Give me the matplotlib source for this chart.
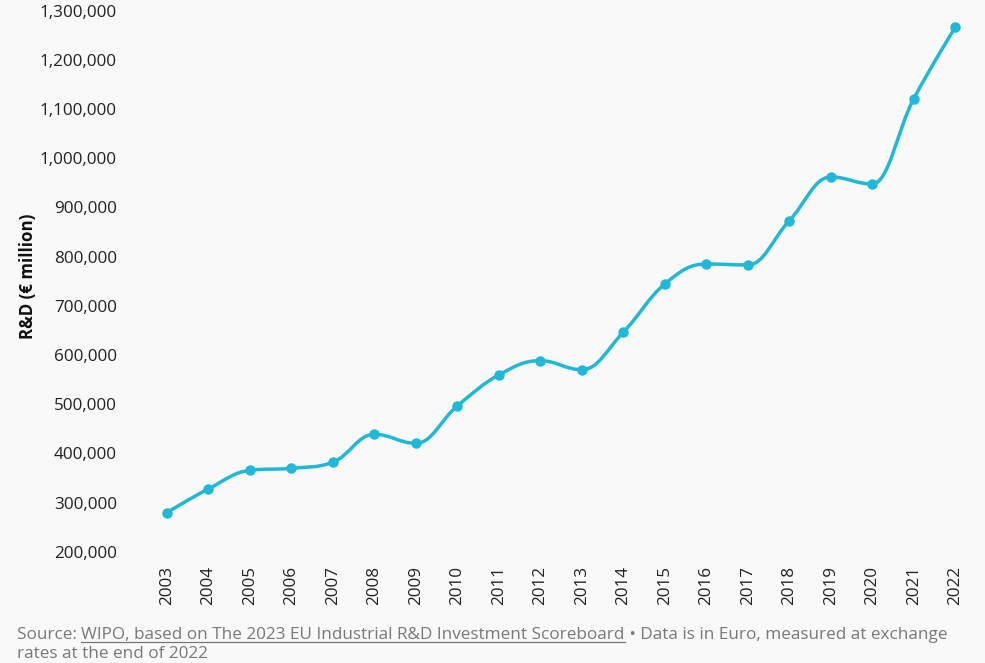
import matplotlib
matplotlib.use("Agg")
import matplotlib.pyplot as plt
from matplotlib.path import Path
from matplotlib.patches import PathPatch
from matplotlib.lines import Line2D
from matplotlib.ticker import FuncFormatter, MultipleLocator

years = [2003, 2004, 2005, 2006, 2007, 2008, 2009, 2010, 2011, 2012,
         2013, 2014, 2015, 2016, 2017, 2018, 2019, 2020, 2021, 2022]
rd_spending = [279300, 327500, 365500, 369600, 381800, 438700, 420400, 496300,
               559300, 588400, 570100, 646100, 744300, 785000, 783000, 873000,
               961900, 947700, 1121100, 1266300]
y_label = "R&D (€ million)"
source_prefix = "Source: "
source_link = "WIPO, based on The 2023 EU Industrial R&D Investment Scoreboard"
source_rest = " • Data is in Euro, measured at exchange"
source_line2 = "rates at the end of 2022"

LINE_COLOR = "#1fb8d6"
BG = "#f9f9f9"
FONT = ["Open Sans", "DejaVu Sans"]
plt.rcParams["font.family"] = FONT

W, H = 985, 663
fig = plt.figure(figsize=(W / 100, H / 100), dpi=100, facecolor=BG)
ax = fig.add_axes([146 / W, 1 - 551.7 / H, (976 - 146) / W, (551.7 - 10.7) / H])
ax.set_facecolor(BG)


def spline_path(xs, ys, smoothing=1.5):
    denom = smoothing + 1
    n = len(xs)
    right = [None] * n
    left = [None] * n
    for i in range(n):
        if 0 < i < n - 1:
            px, py = xs[i], ys[i]
            lx, ly = xs[i - 1], ys[i - 1]
            nx, ny = xs[i + 1], ys[i + 1]
            lcx = (smoothing * px + lx) / denom
            lcy = (smoothing * py + ly) / denom
            rcx = (smoothing * px + nx) / denom
            rcy = (smoothing * py + ny) / denom
            corr = 0
            if rcx != lcx:
                corr = (rcy - lcy) * (rcx - px) / (rcx - lcx) + py - rcy
            lcy += corr
            rcy += corr
            if lcy > ly and lcy > py:
                lcy = max(ly, py); rcy = 2 * py - lcy
            elif lcy < ly and lcy < py:
                lcy = min(ly, py); rcy = 2 * py - lcy
            if rcy > ny and rcy > py:
                rcy = max(ny, py); lcy = 2 * py - rcy
            elif rcy < ny and rcy < py:
                rcy = min(ny, py); lcy = 2 * py - rcy
            left[i] = (lcx, lcy)
            right[i] = (rcx, rcy)
    verts = [(xs[0], ys[0])]
    codes = [Path.MOVETO]
    for i in range(1, n):
        c1 = right[i - 1] if right[i - 1] is not None else (xs[i - 1], ys[i - 1])
        c2 = left[i] if left[i] is not None else (xs[i], ys[i])
        verts += [c1, c2, (xs[i], ys[i])]
        codes += [Path.CURVE4] * 3
    return Path(verts, codes)


ax.add_patch(PathPatch(spline_path(years, rd_spending), facecolor="none",
                       edgecolor=LINE_COLOR, lw=2.5, capstyle="round",
                       joinstyle="round", zorder=2))
ax.plot(years, rd_spending, linestyle="none", marker="o", markersize=6.5,
        color=LINE_COLOR, zorder=3)

ax.set_xlim(2002.5, 2022.5)
ax.set_ylim(200000, 1300000)
ax.set_xticks(years)
ax.set_xticklabels([str(y) for y in years], rotation=90, fontsize=12.3,
                   color="#222222")
ax.yaxis.set_major_locator(MultipleLocator(100000))
ax.yaxis.set_major_formatter(FuncFormatter(lambda v, p: f"{int(v):,}"))
ax.tick_params(axis="y", labelsize=12.3, labelcolor="#222222", length=0, pad=21)
ax.tick_params(axis="x", length=0, pad=10)
for s in ax.spines.values():
    s.set_visible(False)

fig.text(28 / W, 1 - 276 / H, y_label, rotation=90, fontsize=12.2, fontweight="bold",
         color="#111111", ha="center", va="center")

# Source line with underlined link
renderer = fig.canvas.get_renderer()
src_kw = dict(fontsize=12.3, color="#787878", va="baseline", ha="left")
base1 = 1 - 639 / H
t1 = fig.text(17 / W, base1, source_prefix, **src_kw)
bb1 = t1.get_window_extent(renderer)
t2 = fig.text(bb1.x1 / W, base1, source_link, **src_kw)
bb2 = t2.get_window_extent(renderer)
t3 = fig.text(bb2.x1 / W, base1, source_rest, **src_kw)
uy = base1 - 3 / H
fig.add_artist(Line2D([bb2.x0 / W, bb2.x1 / W], [uy, uy], color="#787878", lw=0.9,
                      transform=fig.transFigure))
fig.text(17 / W, 1 - 658 / H, source_line2, **src_kw)

fig.savefig("out.png", dpi=100, facecolor=BG)
